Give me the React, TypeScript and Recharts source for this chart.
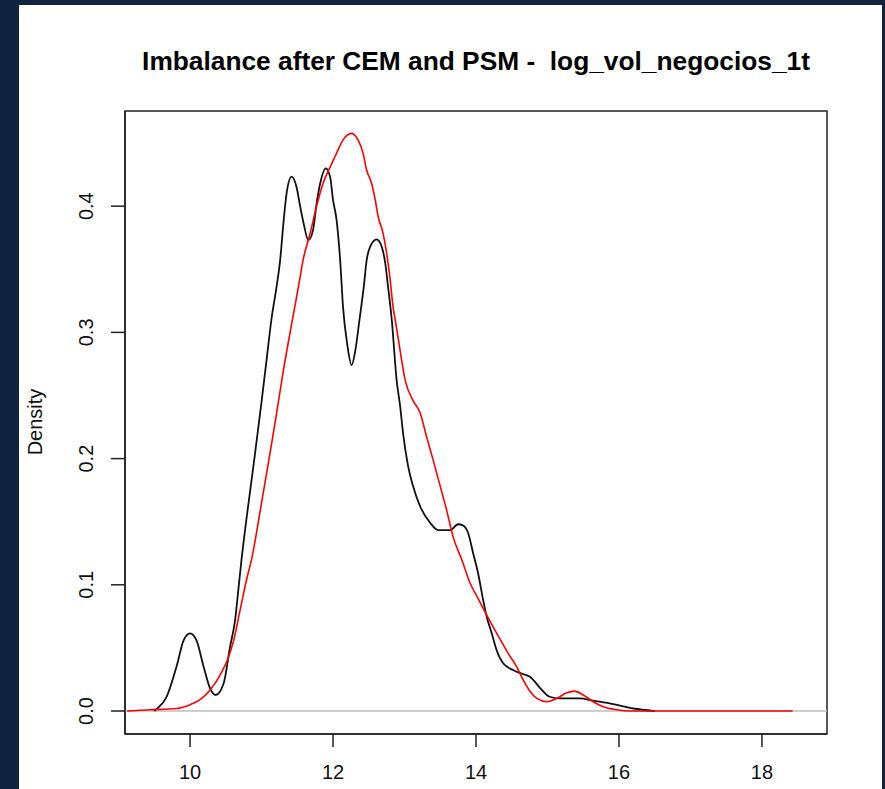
import React from 'react';
import { LineChart, Line, XAxis, YAxis, ReferenceArea } from 'recharts';

// density estimates
const blackX = [9.5, 9.54, 9.67, 9.81, 9.91, 10.0, 10.09, 10.19, 10.28, 10.36, 10.47, 10.56, 10.63, 10.68, 10.72, 10.8, 10.9, 11.0, 11.07, 11.14, 11.21, 11.26, 11.31, 11.35, 11.42, 11.49, 11.54, 11.59, 11.655, 11.72, 11.77, 11.82, 11.9, 11.96, 12.0, 12.05, 12.1, 12.14, 12.2, 12.26, 12.31, 12.37, 12.43, 12.47, 12.52, 12.61, 12.68, 12.73, 12.77, 12.82, 12.89, 12.94, 12.98, 13.05, 13.12, 13.22, 13.36, 13.47, 13.64, 13.75, 13.82, 13.89, 13.96, 14.03, 14.1, 14.15, 14.22, 14.29, 14.38, 14.52, 14.62, 14.76, 14.9, 15.03, 15.17, 15.45, 15.64, 15.92, 16.2, 16.5];
const blackY = [0, 0.002, 0.011, 0.035, 0.056, 0.0615, 0.056, 0.035, 0.018, 0.0127, 0.022, 0.051, 0.072, 0.0985, 0.12, 0.157, 0.2, 0.245, 0.278, 0.311, 0.336, 0.357, 0.389, 0.41, 0.4234, 0.415, 0.4, 0.386, 0.373, 0.381, 0.402, 0.418, 0.43, 0.423, 0.405, 0.389, 0.357, 0.32, 0.29, 0.274, 0.285, 0.31, 0.336, 0.357, 0.368, 0.3737, 0.368, 0.355, 0.336, 0.311, 0.262, 0.241, 0.22, 0.194, 0.178, 0.162, 0.149, 0.1434, 0.1434, 0.148, 0.147, 0.141, 0.125, 0.109, 0.088, 0.0747, 0.0616, 0.048, 0.0378, 0.0325, 0.03, 0.027, 0.018, 0.0113, 0.01, 0.01, 0.0082, 0.0055, 0.002, 0];

const redX = [9.12, 9.44, 9.81, 10.0, 10.14, 10.28, 10.42, 10.54, 10.61, 10.7, 10.79, 10.86, 11.0, 11.1, 11.2, 11.3, 11.44, 11.49, 11.54, 11.58, 11.68, 11.77, 11.86, 11.96, 12.05, 12.14, 12.26, 12.35, 12.42, 12.47, 12.54, 12.59, 12.63, 12.7, 12.75, 12.8, 12.84, 12.87, 12.94, 13.01, 13.12, 13.22, 13.31, 13.4, 13.5, 13.59, 13.68, 13.8, 13.92, 14.03, 14.15, 14.29, 14.45, 14.57, 14.66, 14.75, 14.85, 14.99, 15.13, 15.27, 15.38, 15.5, 15.64, 15.78, 15.97, 16.15, 17.0, 18.43];
const redY = [0, 0.001, 0.002, 0.005, 0.009, 0.0166, 0.0285, 0.043, 0.056, 0.08, 0.104, 0.12, 0.165, 0.198, 0.232, 0.268, 0.3125, 0.328, 0.344, 0.357, 0.3785, 0.4, 0.418, 0.431, 0.442, 0.4525, 0.4577, 0.4525, 0.442, 0.4287, 0.418, 0.405, 0.392, 0.3785, 0.3627, 0.3415, 0.32, 0.31, 0.285, 0.262, 0.246, 0.236, 0.217, 0.199, 0.178, 0.159, 0.138, 0.12, 0.101, 0.089, 0.076, 0.0616, 0.0457, 0.035, 0.0246, 0.016, 0.01, 0.0074, 0.01, 0.0145, 0.0158, 0.0127, 0.0074, 0.0034, 0.001, 0, 0, 0];

const xTicks = [10, 12, 14, 16, 18];
const yTicks = [0, 0.1, 0.2, 0.3, 0.4];
const xDomain = [9.09, 18.91];
const yDomain = [-0.0182, 0.4754];

const blackData = blackX.map((x, i) => ({ x, y: blackY[i] }));
const redData = redX.map((x, i) => ({ x, y: redY[i] }));
const baseline = xDomain.map((x) => ({ x, y: 0 }));

const FONT = '"Liberation Sans", Arial, sans-serif';

const YTick = (props: any) => {
  const { x, y, payload } = props;
  return (
    <text
      x={x - 23}
      y={y}
      transform={`rotate(-90, ${x - 23}, ${y})`}
      textAnchor="middle"
      dominantBaseline="central"
      fontSize={20}
      fontFamily={FONT}
      fill="#111"
    >
      {payload.value.toFixed(1)}
    </text>
  );
};

const App = () => {
  return (
    <div style={{ position: 'absolute', left: 0, top: 0, width: 885, height: 789, background: '#11243f', overflow: 'hidden' }}>
      <div style={{ position: 'absolute', left: 19, top: 5, width: 863, height: 784, background: '#fff' }} />
      <div style={{ position: 'absolute', left: 0, top: 0 }}>
        <LineChart width={885} height={789} margin={{ top: 111, right: 58, bottom: 0, left: 0 }}>
          <XAxis
            xAxisId="b"
            type="number"
            dataKey="x"
            domain={xDomain}
            ticks={xTicks}
            allowDataOverflow
            height={55}
            tickSize={13}
            tickMargin={18}
            stroke="#222"
            strokeWidth={1.5}
            tick={{ fill: '#111', fontSize: 20, fontFamily: FONT }}
          />
          <YAxis
            yAxisId="l"
            type="number"
            domain={yDomain}
            ticks={yTicks}
            allowDataOverflow
            width={125}
            tickSize={14}
            stroke="#222"
            strokeWidth={1.5}
            tick={<YTick />}
          />
          <Line xAxisId="b" yAxisId="l" data={baseline} dataKey="y" type="linear" stroke="#bebebe" strokeWidth={1.5} dot={false} isAnimationActive={false} />
          <Line xAxisId="b" yAxisId="l" data={blackData} dataKey="y" type="monotone" stroke="#111" strokeWidth={1.8} dot={false} isAnimationActive={false} />
          <Line xAxisId="b" yAxisId="l" data={redData} dataKey="y" type="monotone" stroke="#ff0000" strokeWidth={1.6} dot={false} isAnimationActive={false} />
          <ReferenceArea
            xAxisId="b"
            yAxisId="l"
            x1={xDomain[0]}
            x2={xDomain[1]}
            y1={yDomain[0]}
            y2={yDomain[1]}
            fill="none"
            fillOpacity={0}
            stroke="#222"
            strokeWidth={1.5}
            ifOverflow="visible"
          />
        </LineChart>
      </div>
      <svg width={885} height={789} style={{ position: 'absolute', left: 0, top: 0, pointerEvents: 'none' }}>
        <text x={476} y={70} textAnchor="middle" fontSize={26.3} fontWeight="bold" fontFamily={FONT} fill="#000" style={{ whiteSpace: 'pre' }}>
          Imbalance after CEM and PSM -  log_vol_negocios_1t
        </text>
        <text x={35} y={422} transform="rotate(-90, 35, 422)" textAnchor="middle" dominantBaseline="central" fontSize={20} fontFamily={FONT} fill="#111">
          Density
        </text>
      </svg>
    </div>
  );
};

export default App;
